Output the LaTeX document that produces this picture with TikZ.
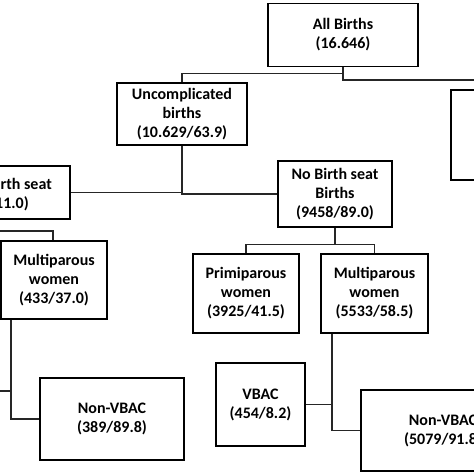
\documentclass[tikz,border=0pt]{standalone}
\usepackage{fontspec}
\setmainfont{Carlito}
\begin{document}
\begin{tikzpicture}[x=1pt,y=-1pt,
  txt/.style={inner sep=0pt, font=\fontsize{16}{19}\selectfont\bfseries},
  box/.style={txt, draw=black, line width=1.3pt, align=center},
  conn/.style={draw=black!85, line width=1.1pt}]
\useasboundingbox (0,0) rectangle (474,474);
% boxes
\node[box, minimum width=150, minimum height=63] (ab) at (343,35) {All Births\\(16.646)};
\node[box, minimum width=130, minimum height=62] (uc) at (182,114) {Uncomplicated\\births\\(10.629/63.9)};
\node[box, minimum width=130, minimum height=90] (cb) at (516,135) {};
\node[box, minimum width=137, minimum height=53] (bs) at (1.5,192.5) {};
\node[txt, anchor=base east] (bs1) at (52,189.5) {Birth seat};
\node[txt, anchor=base east] (bs2) at (29,208) {(1171/11.0)};
\node[box, minimum width=114, minimum height=66] (nb) at (335,194) {No Birth seat\\Births\\(9458/89.0)};
\node[box, minimum width=106, minimum height=78] (ml) at (54,280) {Multiparous\\women\\(433/37.0)};
\node[box, minimum width=106, minimum height=79] (pr) at (246,293.5) {Primiparous\\women\\(3925/41.5)};
\node[box, minimum width=107, minimum height=79] (mr) at (374.5,293.5) {Multiparous\\women\\(5533/58.5)};
\node[box, minimum width=144, minimum height=82] (nvl) at (112,419) {Non-VBAC\\(389/89.8)};
\node[box, minimum width=89, minimum height=83] (vb) at (260.5,404.5) {VBAC\\(454/8.2)};
\node[box, minimum width=164, minimum height=81] (nvr) at (443,430.5) {Non-VBAC\\(5079/91.8)};
% connectors
\coordinate (rc) at (490,80);
\draw[conn] (ab.south) -- ++(0,6) -| (uc.north);
\draw[conn] (ab.south) |- (rc);
\draw[conn] (uc.south) |- (bs.east);
\draw[conn] (uc.south) |- (nb.west);
\draw[conn] (nb.south) -- ++(0,17) -| (pr.north);
\draw[conn] (nb.south) -- ++(0,17) -| (mr.north);
\coordinate (mrj) at ([xshift=-42.5pt]mr.south);
\draw[conn] (mrj) |- (nvr.west);
\draw[conn] (vb.east) -- (vb.east -| mrj);
\coordinate (bsl) at (-10,231);
\draw[conn] (bsl) -| ([xshift=-1pt]ml.north);
\coordinate (mlj) at ([xshift=-43pt]ml.south);
\draw[conn] (mlj) |- (nvl.west);
\coordinate (vl) at (-10,391);
\draw[conn] (vl) -- (vl -| mlj);
\end{tikzpicture}
\end{document}
